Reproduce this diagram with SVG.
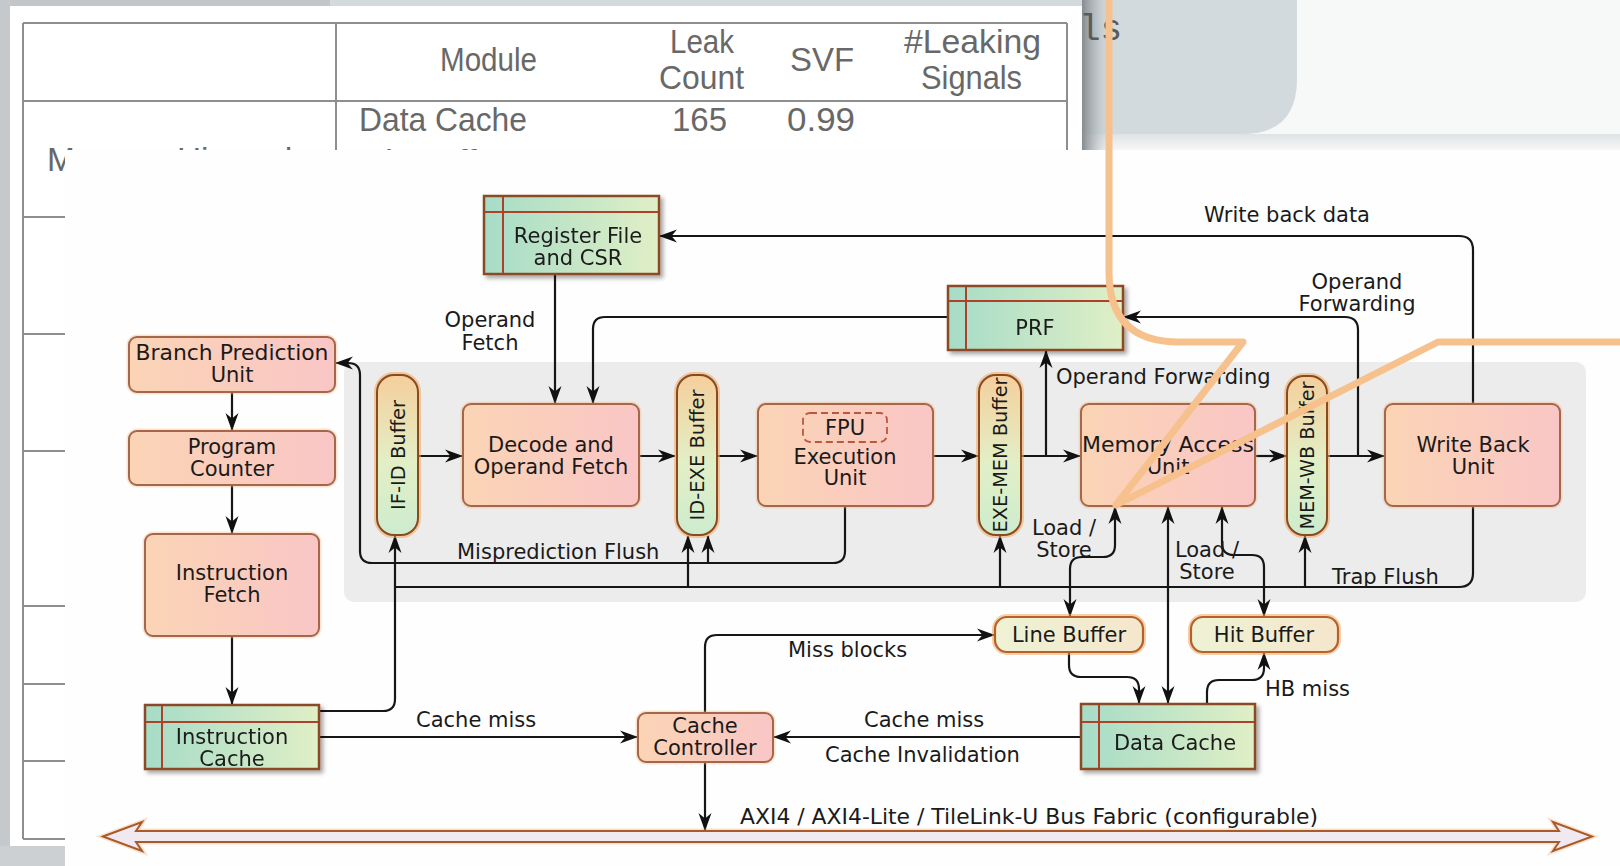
<svg xmlns="http://www.w3.org/2000/svg" width="1620" height="866" viewBox="0 0 1620 866">
<defs>
<style>
.box{fill:url(#gOrange);stroke:#a5674a;stroke-width:2}
.halo{fill:none;stroke:#f6b27a;stroke-width:5;opacity:.35}
.tbl{fill:url(#gTable);stroke:#8c4a28;stroke-width:2.5}
.tline{stroke:#b0402a;stroke-width:2;fill:none}
.pill{fill:url(#gPill);stroke:#8a4a1e;stroke-width:2}
.pglow{fill:none;stroke:#f3a55e;stroke-width:6;opacity:.55}
.sbuf{fill:url(#gSmall);stroke:#b5622a;stroke-width:2.2}
.t{font-family:'DejaVu Sans',Verdana,sans-serif;font-size:21px;fill:#1a1a1a}
.tp{font-family:'DejaVu Sans',Verdana,sans-serif;font-size:19.5px;fill:#1a1a1a;text-anchor:middle}
.c{text-anchor:middle}
.ln{fill:none;stroke:#161616;stroke-width:2.2}
.ar{marker-end:url(#ah)}
.ar2{marker-start:url(#ah);marker-end:url(#ah)}
.tab{font-family:'Liberation Sans',Arial,sans-serif;font-size:33px;fill:#686868}
.rule{stroke:#8e8e8e;stroke-width:2;fill:none}
</style>
<linearGradient id="gOrange" x1="0" y1="0" x2="1" y2="0">
<stop offset="0" stop-color="#fbd4b5"/><stop offset="1" stop-color="#f9c6c6"/>
</linearGradient>
<linearGradient id="gTable" x1="0" y1="0" x2="1" y2="0">
<stop offset="0" stop-color="#a6dcc7"/><stop offset="1" stop-color="#e0efc6"/>
</linearGradient>
<linearGradient id="gPill" x1="0" y1="0" x2="0" y2="1">
<stop offset="0" stop-color="#f5cf9c"/><stop offset=".55" stop-color="#e2efc6"/><stop offset="1" stop-color="#cdecce"/>
</linearGradient>
<linearGradient id="gSmall" x1="0" y1="0" x2="1" y2="0">
<stop offset="0" stop-color="#eef2d4"/><stop offset="1" stop-color="#f5e6cc"/>
</linearGradient>
<linearGradient id="gShadow" x1="0" y1="0" x2="1" y2="0">
<stop offset="0" stop-color="#858b8f"/><stop offset="1" stop-color="#d2dadd" stop-opacity="0"/>
</linearGradient>
<linearGradient id="gUnder" x1="0" y1="0" x2="0" y2="1">
<stop offset="0" stop-color="#dfe3e5"/><stop offset="1" stop-color="#f6f7f7"/>
</linearGradient>
<filter id="sh" x="-10%" y="-10%" width="130%" height="140%">
<feDropShadow dx="3" dy="3" stdDeviation="2" flood-color="#000" flood-opacity=".35"/>
</filter>
<marker id="ah" viewBox="0 0 18 14" refX="17" refY="7" markerWidth="18" markerHeight="14" markerUnits="userSpaceOnUse" orient="auto-start-reverse">
<path d="M18,7 L0,0.5 L5.5,7 L0,13.5 Z" fill="#111"/>
</marker>
</defs>

<!-- page, slide and table card behind the diagram -->
<g id="backdrop">
<rect x="0" y="0" width="1620" height="866" fill="#f7f8f8"/>
<rect x="0" y="0" width="340" height="150" fill="#c2c6c9"/>
<path d="M330,0 H1297 V79 Q1297,134 1242,134 H330 Z" fill="#d2dadd"/>
<rect x="1082" y="134" width="538" height="16" fill="url(#gUnder)"/>
<rect x="1082" y="0" width="32" height="150" fill="url(#gShadow)"/>
<rect x="0" y="0" width="10" height="866" fill="#c6c9cb"/>
<rect x="0" y="846" width="70" height="20" fill="#cdd0d2"/>
<text x="1079" y="40" font-family="'Liberation Mono','Courier New',monospace" font-size="36" fill="#5a5a5a">ls</text>
<rect x="10" y="6" width="1072" height="840" fill="#ffffff"/>
<g id="table">
<path class="rule" d="M23,23 H1067 M23,101 H1067 M23,217 H1067 M23,334 H1067 M23,451 H1067 M23,606 H1067 M23,684 H1067 M23,761 H1067 M23,839 H1067"/>
<path class="rule" d="M23,23 V839 M336,23 V839 M1067,23 V839"/>
<text class="tab" x="440" y="71" textLength="97" lengthAdjust="spacingAndGlyphs">Module</text>
<text class="tab" x="670" y="53" textLength="64" lengthAdjust="spacingAndGlyphs">Leak</text>
<text class="tab" x="659" y="89" textLength="85" lengthAdjust="spacingAndGlyphs">Count</text>
<text class="tab" x="790" y="71" textLength="64" lengthAdjust="spacingAndGlyphs">SVF</text>
<text class="tab" x="904" y="53" textLength="137" lengthAdjust="spacingAndGlyphs">#Leaking</text>
<text class="tab" x="921" y="89" textLength="101" lengthAdjust="spacingAndGlyphs">Signals</text>
<text class="tab" x="359" y="131" textLength="168" lengthAdjust="spacingAndGlyphs">Data Cache</text>
<text class="tab" x="672" y="131" textLength="55" lengthAdjust="spacingAndGlyphs">165</text>
<text class="tab" x="787" y="131" textLength="68" lengthAdjust="spacingAndGlyphs">0.99</text>
<text class="tab" x="47" y="171" textLength="273" lengthAdjust="spacingAndGlyphs">Memory Hierarchy</text>
<text class="tab" x="359" y="173" textLength="150" lengthAdjust="spacingAndGlyphs">Hit Buffer</text>
<text class="tab" x="690" y="173" textLength="36" lengthAdjust="spacingAndGlyphs">25</text>
<text class="tab" x="787" y="173" textLength="68" lengthAdjust="spacingAndGlyphs">0.25</text>
<text class="tab" x="962" y="173" textLength="36" lengthAdjust="spacingAndGlyphs">25</text>
</g>
</g>

<!-- diagram sheet -->
<rect id="sheet" x="65" y="150" width="1555" height="716" fill="#fefefe"/>
<rect id="pipeline-band" x="344" y="362" width="1242" height="240" rx="10" fill="#ececec"/>

<g id="connectors">
<path class="ln ar" d="M232,392 L232,430"/>
<path class="ln ar" d="M232,485 L232,533"/>
<path class="ln ar" d="M232,636 L232,704"/>
<path class="ln ar" d="M319,711 L383,711 Q395,711 395,699 L395,536"/>
<path class="ln" d="M1473,506 L1473,573 Q1473,587 1459,587 L395,587"/>
<path class="ln ar" d="M688,587 L688,536"/>
<path class="ln ar" d="M1000,587 L1000,536"/>
<path class="ln ar" d="M1305,587 L1305,536"/>
<path class="ln ar" d="M845,506 L845,551 Q845,563 833,563 L372,563 Q360,563 360,551 L360,375 Q360,363 348,363 L336,363"/>
<path class="ln ar" d="M708,563 L708,536"/>
<path class="ln ar" d="M418,456 L462,456"/>
<path class="ln ar" d="M639,456 L675,456"/>
<path class="ln ar" d="M717,456 L757,456"/>
<path class="ln ar" d="M933,456 L978,456"/>
<path class="ln ar" d="M1021,456 L1080,456"/>
<path class="ln ar" d="M1046,456 L1046,351"/>
<path class="ln ar" d="M1255,456 L1286,456"/>
<path class="ln ar" d="M1327,456 L1384,456"/>
<path class="ln ar" d="M1358,456 L1358,330 Q1358,317 1345,317 L1124,317"/>
<path class="ln ar" d="M948,317 L605,317 Q593,317 593,329 L593,403"/>
<path class="ln ar" d="M555,274 L555,403"/>
<path class="ln ar" d="M1473,404 L1473,250 Q1473,236 1459,236 L660,236"/>
<path class="ln ar2" d="M1168,507 L1168,703"/>
<path class="ln ar2" d="M1115,507 L1115,545 Q1115,557 1103,557 L1082,557 Q1070,557 1070,569 L1070,616"/>
<path class="ln ar2" d="M1222,507 L1222,543 Q1222,555 1234,555 L1252,555 Q1264,555 1264,567 L1264,616"/>
<path class="ln ar" d="M1069,652 L1069,665 Q1069,677 1081,677 L1127,677 Q1139,677 1139,689 L1139,703"/>
<path class="ln ar" d="M1207,704 L1207,692 Q1207,680 1219,680 L1252,680 Q1264,680 1264,668 L1264,653"/>
<path class="ln ar" d="M1081,737 L774,737"/>
<path class="ln ar" d="M319,737 L637,737"/>
<path class="ln ar" d="M705,713 L705,647 Q705,635 717,635 L994,635"/>
<path class="ln ar" d="M705,762 L705,830"/>
</g>

<g id="bus">
<path d="M103,836.5 L142,822 L136,831 L1559,831 L1553,822 L1592,836.5 L1553,851 L1559,842 L136,842 L142,851 Z" fill="none" stroke="#f6b27a" stroke-width="5" opacity=".4"/>
<path d="M103,836.5 L142,822 L136,831 L1559,831 L1553,822 L1592,836.5 L1553,851 L1559,842 L136,842 L142,851 Z" fill="#f0eaf0" stroke="#a85a2a" stroke-width="2"/>
<text class="t" x="740" y="824" textLength="578" lengthAdjust="spacingAndGlyphs">AXI4 / AXI4-Lite / TileLink-U Bus Fabric (configurable)</text>
</g>

<g id="node-bpu">
<rect class="halo" x="129" y="337" width="206" height="55" rx="8"/>
<rect class="box" x="129" y="337" width="206" height="55" rx="8"/>
<text class="t c" x="232" y="360" textLength="193" lengthAdjust="spacingAndGlyphs">Branch Prediction</text>
<text class="t c" x="232" y="382">Unit</text>
</g>
<g id="node-pc">
<rect class="halo" x="129" y="431" width="206" height="54" rx="8"/>
<rect class="box" x="129" y="431" width="206" height="54" rx="8"/>
<text class="t c" x="232" y="454">Program</text>
<text class="t c" x="232" y="476">Counter</text>
</g>
<g id="node-ifetch">
<rect class="halo" x="145" y="534" width="174" height="102" rx="8"/>
<rect class="box" x="145" y="534" width="174" height="102" rx="8"/>
<text class="t c" x="232" y="580">Instruction</text>
<text class="t c" x="232" y="602">Fetch</text>
</g>
<g id="node-icache" filter="url(#sh)">
<rect class="tbl" x="145" y="705" width="174" height="64"/>
<path class="tline" d="M146,722 H318 M162,706 V768"/>
<text class="t c" x="232" y="744">Instruction</text>
<text class="t c" x="232" y="766">Cache</text>
</g>
<g id="node-regfile" filter="url(#sh)">
<rect class="tbl" x="484" y="196" width="175" height="78"/>
<path class="tline" d="M485,212 H658 M503,197 V273"/>
<text class="t c" x="578" y="243">Register File</text>
<text class="t c" x="578" y="265">and CSR</text>
</g>
<g id="node-prf" filter="url(#sh)">
<rect class="tbl" x="948" y="286" width="175" height="64"/>
<path class="tline" d="M949,301 H1122 M966,287 V349"/>
<text class="t c" x="1035" y="335">PRF</text>
</g>
<g id="node-ifid">
<rect class="pglow" x="377" y="375" width="41" height="160" rx="17"/>
<rect class="pill" x="377" y="375" width="41" height="160" rx="17"/>
<text class="tp" transform="translate(397.5,455) rotate(-90)" dy="7">IF-ID Buffer</text>
</g>
<g id="node-decode">
<rect class="halo" x="463" y="404" width="176" height="102" rx="8"/>
<rect class="box" x="463" y="404" width="176" height="102" rx="8"/>
<text class="t c" x="551" y="452">Decode and</text>
<text class="t c" x="551" y="474">Operand Fetch</text>
</g>
<g id="node-idexe">
<rect class="pglow" x="677" y="375" width="40" height="160" rx="17"/>
<rect class="pill" x="677" y="375" width="40" height="160" rx="17"/>
<text class="tp" transform="translate(697,455) rotate(-90)" dy="7">ID-EXE Buffer</text>
</g>
<g id="node-exec">
<rect class="halo" x="758" y="404" width="175" height="102" rx="8"/>
<rect class="box" x="758" y="404" width="175" height="102" rx="8"/>
<rect x="803" y="413" width="84" height="29" rx="7" fill="none" stroke="#b8583e" stroke-width="1.8" stroke-dasharray="7,4"/>
<text class="t c" x="845" y="435">FPU</text>
<text class="t c" x="845" y="464">Execution</text>
<text class="t c" x="845" y="485">Unit</text>
</g>
<g id="node-exemem">
<rect class="pglow" x="979" y="375" width="42" height="160" rx="17"/>
<rect class="pill" x="979" y="375" width="42" height="160" rx="17"/>
<text class="tp" transform="translate(1000,455) rotate(-90)" dy="7" textLength="155" lengthAdjust="spacingAndGlyphs">EXE-MEM Buffer</text>
</g>
<g id="node-mau">
<rect class="halo" x="1081" y="404" width="174" height="102" rx="8"/>
<rect class="box" x="1081" y="404" width="174" height="102" rx="8"/>
<text class="t c" x="1168" y="452" textLength="172" lengthAdjust="spacingAndGlyphs">Memory Access</text>
<text class="t c" x="1168" y="474">Unit</text>
</g>
<g id="node-memwb">
<rect class="pglow" x="1287" y="376" width="40" height="159" rx="17"/>
<rect class="pill" x="1287" y="376" width="40" height="159" rx="17"/>
<text class="tp" transform="translate(1307,455.5) rotate(-90)" dy="7" textLength="148" lengthAdjust="spacingAndGlyphs">MEM-WB Buffer</text>
</g>
<g id="node-wbu">
<rect class="halo" x="1385" y="404" width="175" height="102" rx="8"/>
<rect class="box" x="1385" y="404" width="175" height="102" rx="8"/>
<text class="t c" x="1473" y="452">Write Back</text>
<text class="t c" x="1473" y="474">Unit</text>
</g>
<g id="node-linebuf">
<rect class="pglow" x="995" y="617" width="148" height="35" rx="12"/>
<rect class="sbuf" x="995" y="617" width="148" height="35" rx="12"/>
<text class="t c" x="1069" y="642">Line Buffer</text>
</g>
<g id="node-hitbuf">
<rect class="pglow" x="1191" y="617" width="147" height="35" rx="12"/>
<rect class="sbuf" x="1191" y="617" width="147" height="35" rx="12"/>
<text class="t c" x="1264" y="642">Hit Buffer</text>
</g>
<g id="node-dcache" filter="url(#sh)">
<rect class="tbl" x="1081" y="704" width="174" height="65"/>
<path class="tline" d="M1082,722 H1254 M1099,705 V768"/>
<text class="t c" x="1175" y="750">Data Cache</text>
</g>
<g id="node-cachectl">
<rect class="halo" x="638" y="713" width="135" height="49" rx="8"/>
<rect class="box" x="638" y="713" width="135" height="49" rx="8"/>
<text class="t c" x="705" y="733">Cache</text>
<text class="t c" x="705" y="755">Controller</text>
</g>

<g id="edge-labels">
<text class="t c" x="490" y="327">Operand</text>
<text class="t c" x="490" y="350">Fetch</text>
<text class="t c" x="1287" y="222">Write back data</text>
<text class="t c" x="1357" y="289">Operand</text>
<text class="t c" x="1357" y="311">Forwarding</text>
<text class="t" x="1056" y="384">Operand Forwarding</text>
<text class="t" x="457" y="559">Misprediction Flush</text>
<text class="t c" x="1064" y="535">Load /</text>
<text class="t c" x="1064" y="557">Store</text>
<text class="t c" x="1207" y="557">Load /</text>
<text class="t c" x="1207" y="579">Store</text>
<text class="t" x="1332" y="584">Trap Flush</text>
<text class="t" x="788" y="657">Miss blocks</text>
<text class="t" x="1265" y="696">HB miss</text>
<text class="t" x="416" y="727">Cache miss</text>
<text class="t" x="864" y="727">Cache miss</text>
<text class="t" x="825" y="762">Cache Invalidation</text>
</g>

<!-- freehand orange stroke drawn over everything -->
<path id="marker-stroke" d="M1109,0 L1109,272 Q1109,342 1179,342 L1243,342 L1116,505 L1438,342 L1620,342" fill="none" stroke="#f6c18c" stroke-width="7" stroke-linejoin="round" stroke-linecap="round"/>
</svg>
